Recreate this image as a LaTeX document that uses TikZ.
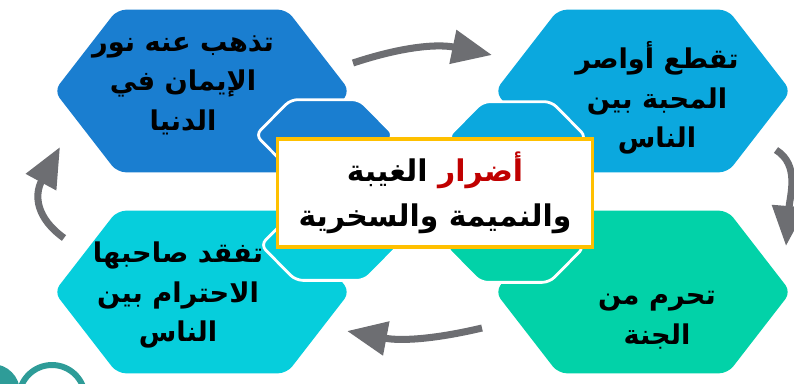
\documentclass[tikz,border=0pt]{standalone}
\usepackage{fontspec}
\usetikzlibrary{arrows.meta}
\TeXXeTstate=1
\newfontfamily\arabicfont[Script=Arabic]{DejaVu Sans}

\definecolor{hexdark}{HTML}{1A7ED0}
\definecolor{hexlight}{HTML}{0BA8DE}
\definecolor{hexcyan}{HTML}{06CEDC}
\definecolor{hexgreen}{HTML}{02D2A8}
\definecolor{arrowgray}{HTML}{6D6E72}
\definecolor{boxgold}{HTML}{FFC000}
\definecolor{titlered}{HTML}{C00000}
\definecolor{logoteal}{HTML}{2E9C98}

\tikzset{
    bighex/.style={minimum width=5.9cm, minimum height=3.24cm, inner sep=0pt},
    smallhex/.style={minimum width=2.76cm, minimum height=1.4cm, inner sep=0pt},
    hextext/.style={font=\arabicfont\bfseries\fontsize{15.5}{22.5}\selectfont, align=center, text=black},
    cyclearrow/.style={draw=arrowgray, line width=4pt, -{Triangle[length=0.8cm,width=0.66cm]}}
}
% hexagon around a named node: node, slant, style
\newcommand{\hexfill}[3]{%
    \path[#3] (#1.west) -- ([xshift=#2]#1.north west) -- ([xshift=-#2]#1.north east)
        -- (#1.east) -- ([xshift=-#2]#1.south east) -- ([xshift=#2]#1.south west) -- cycle;}

\begin{document}
\begin{tikzpicture}[x=0.02cm, y=-0.02cm]
            \useasboundingbox[fill=white] (0,0) rectangle (794,383);

            % big hexagons
            \node[bighex] (tl) at (202,91) {};
            \node[bighex] (tr) at (643,91) {};
            \node[bighex] (bl) at (202,292) {};
            \node[bighex] (br) at (643,292) {};
            \hexfill{tl}{1.26cm}{fill=hexdark, rounded corners=5pt}
            \hexfill{tr}{1.26cm}{fill=hexlight, rounded corners=5pt}
            \hexfill{bl}{1.26cm}{fill=hexcyan, rounded corners=5pt}
            \hexfill{br}{1.26cm}{fill=hexgreen, rounded corners=5pt}

            % small hexagons
            \node[smallhex] (tls) at (325,135) {};
            \node[smallhex] (trs) at (517,137) {};
            \node[smallhex] (bls) at (330,245) {};
            \node[smallhex] (brs) at (515,247) {};
            \hexfill{tls}{0.7cm}{fill=hexdark, draw=white, line width=1.6pt, rounded corners=4pt}
            \hexfill{trs}{0.7cm}{fill=hexlight, draw=white, line width=1.6pt, rounded corners=4pt}
            \hexfill{bls}{0.7cm}{fill=hexcyan, draw=white, line width=1.6pt, rounded corners=4pt}
            \hexfill{brs}{0.7cm}{fill=hexgreen, draw=white, line width=1.6pt, rounded corners=4pt}

            % texts
            \node[hextext] (tlt) at (183,85) {\beginR تذهب عنه نور\endR\\ \beginR الإيمان في\endR\\ \beginR الدنيا\endR};
            \node[hextext] (trt) at (657,98) {\beginR تقطع أواصر\endR\\ \beginR المحبة بين\endR\\ \beginR الناس\endR};
            \node[hextext] (blt) at (178,295) {\beginR تفقد صاحبها\endR\\ \beginR الاحترام بين\endR\\ \beginR الناس\endR};
            \node[hextext] (brt) at (657,320) {\beginR تحرم من\endR\\ \beginR الجنة\endR};

            % title box
            \node[draw=boxgold, line width=1.8pt, fill=white, minimum width=6.3cm, minimum height=2.16cm,
                font=\arabicfont\bfseries\fontsize{17}{25.5}\selectfont, align=center] (title) at (435,193)
                {\beginR الغيبة\endR\ {\color{titlered}\beginR أضرار\endR}\\ \beginR والنميمة والسخرية\endR};

            % arrows
            \coordinate (topa) at (353,63);
            \coordinate (topb) at (492,55);
            \coordinate (rta) at (776,150);
            \coordinate (rtb) at (786,246);
            \coordinate (bta) at (482,328);
            \coordinate (btb) at (347,331);
            \coordinate (lfa) at (64,238);
            \coordinate (lfb) at (60,147);
            \draw[cyclearrow] (topa) to[bend left=15] (topb);
            \draw[cyclearrow] (rta) .. controls (800,165) and (790,195) .. (rtb);
            \draw[cyclearrow] (bta) to[bend left=12] (btb);
            \draw[cyclearrow] (lfa) .. controls (36,218) and (34,195) .. (lfb);

            % logo corner
            \fill[logoteal] (-8,392) circle (28);
            \draw[logoteal, line width=3.4pt] (52,398) circle (33);
\end{tikzpicture}
\end{document}
